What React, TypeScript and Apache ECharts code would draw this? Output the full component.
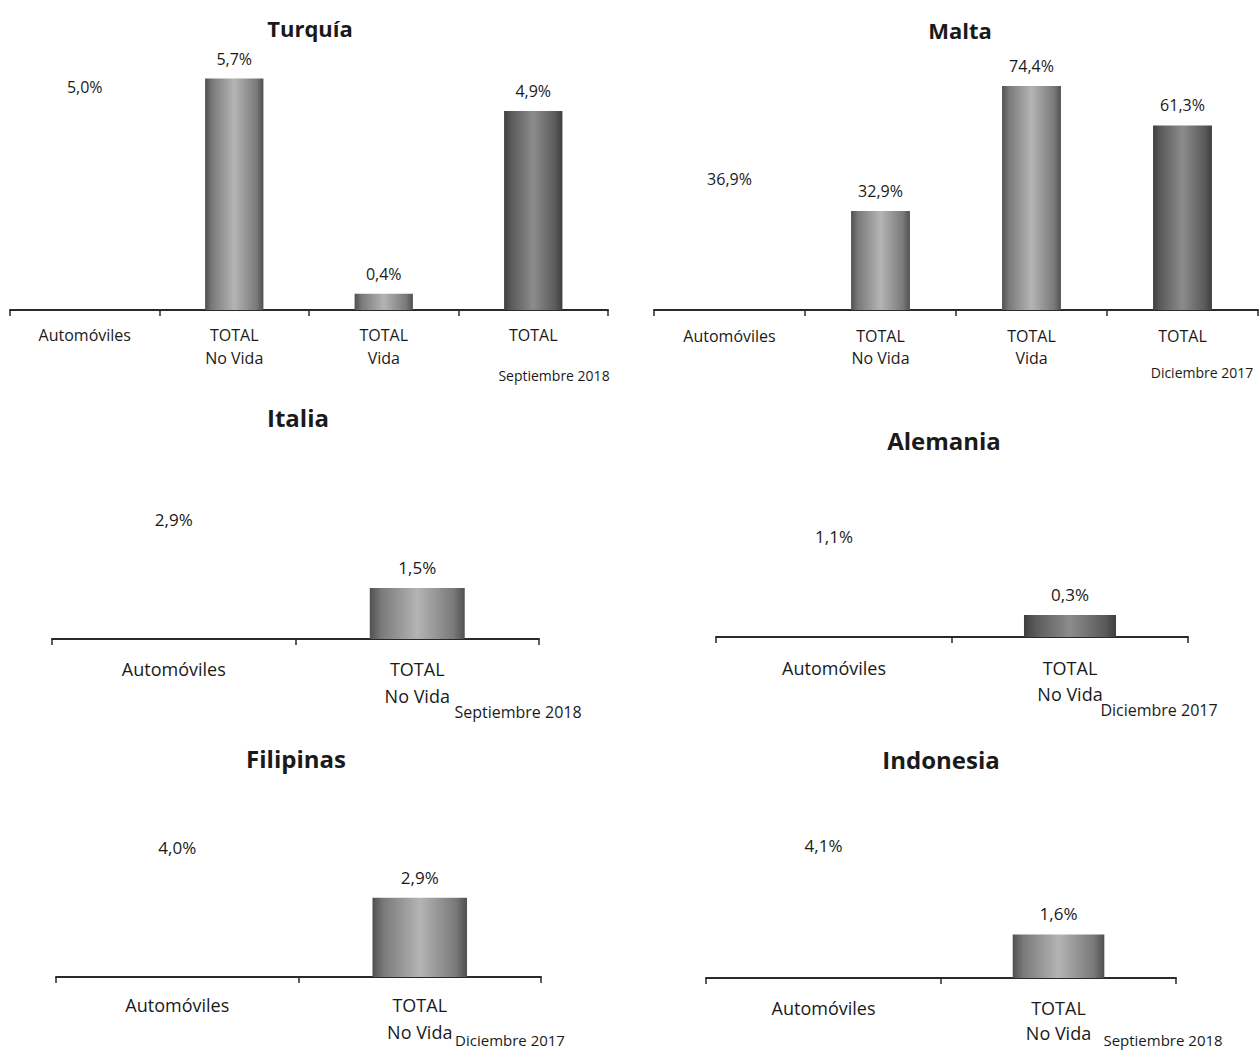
import React, { useEffect, useRef } from "react";
import * as echarts from "echarts";

// ---- Data ----
const fourCategories = ["Automóviles", "TOTAL\nNo Vida", "TOTAL\nVida", "TOTAL"];
const twoCategories = ["Automóviles", "TOTAL\nNo Vida"];

const turquiaValues = [5.0, 5.7, 0.4, 4.9];
const maltaValues = [36.9, 32.9, 74.4, 61.3];
const italiaValues = [2.9, 1.5];
const alemaniaValues = [1.1, 0.3];
const filipinasValues = [4.0, 2.9];
const indonesiaValues = [4.1, 1.6];

const titles = ["Turquía", "Malta", "Italia", "Alemania", "Filipinas", "Indonesia"];
const dateNotes = [
  "Septiembre 2018",
  "Diciembre 2017",
  "Septiembre 2018",
  "Diciembre 2017",
  "Diciembre 2017",
  "Septiembre 2018",
];

const FONT = "'Open Sans', 'Noto Sans', sans-serif";

// ---- Layout (positions/sizes only) ----
type Panel = {
  title: string;
  categories: string[];
  values: number[];
  left: number;
  width: number;
  axisY: number;
  scale: number;
  yMax: number;
  titleX: number;
  titleY: number;
  titleSize: number;
  note: string;
  noteX: number;
  noteY: number;
  noteSize: number;
  labelSize: number;
  labelLine: number;
  labelMargin: number;
  valueSize: number;
};

const panels: Panel[] = [
  {
    title: titles[0], categories: fourCategories, values: turquiaValues,
    left: 10, width: 598, axisY: 310, scale: 40.6, yMax: 6,
    titleX: 310, titleY: 28, titleSize: 22,
    note: dateNotes[0], noteX: 554, noteY: 375, noteSize: 14,
    labelSize: 16, labelLine: 23, labelMargin: 13, valueSize: 16,
  },
  {
    title: titles[1], categories: fourCategories, values: maltaValues,
    left: 654, width: 604, axisY: 310, scale: 3.01, yMax: 80,
    titleX: 960, titleY: 30, titleSize: 22,
    note: dateNotes[1], noteX: 1202, noteY: 372, noteSize: 14,
    labelSize: 16, labelLine: 22, labelMargin: 15, valueSize: 16,
  },
  {
    title: titles[2], categories: twoCategories, values: italiaValues,
    left: 52, width: 487, axisY: 639, scale: 34, yMax: 4,
    titleX: 298, titleY: 417, titleSize: 24,
    note: dateNotes[2], noteX: 518, noteY: 712, noteSize: 16,
    labelSize: 18, labelLine: 27, labelMargin: 16, valueSize: 17,
  },
  {
    title: titles[3], categories: twoCategories, values: alemaniaValues,
    left: 716, width: 472, axisY: 637, scale: 73, yMax: 1.5,
    titleX: 944, titleY: 440, titleSize: 24,
    note: dateNotes[3], noteX: 1159, noteY: 710, noteSize: 16,
    labelSize: 18, labelLine: 26, labelMargin: 18, valueSize: 17,
  },
  {
    title: titles[4], categories: twoCategories, values: filipinasValues,
    left: 56, width: 485, axisY: 977, scale: 27.3, yMax: 4.5,
    titleX: 296, titleY: 758, titleSize: 24,
    note: dateNotes[4], noteX: 510, noteY: 1040, noteSize: 15,
    labelSize: 18, labelLine: 27, labelMargin: 14, valueSize: 17,
  },
  {
    title: titles[5], categories: twoCategories, values: indonesiaValues,
    left: 706, width: 470, axisY: 978, scale: 27.2, yMax: 4.5,
    titleX: 941, titleY: 759, titleSize: 24,
    note: dateNotes[5], noteX: 1163, noteY: 1040, noteSize: 15,
    labelSize: 18, labelLine: 25, labelMargin: 17, valueSize: 17,
  },
];

function barFill(dark: boolean) {
  const edge = dark ? "#3e3e3e" : "#505050";
  const mid = dark ? "#8c8c8c" : "#b4b4b4";
  return new echarts.graphic.LinearGradient(0, 0, 1, 0, [
    { offset: 0, color: edge },
    { offset: 0.12, color: dark ? "#5a5a5a" : "#7a7a7a" },
    { offset: 0.5, color: mid },
    { offset: 0.88, color: dark ? "#5a5a5a" : "#7a7a7a" },
    { offset: 1, color: edge },
  ]);
}

const fmt = (v: number) => v.toFixed(1).replace(".", ",") + "%";

export default function App() {
  const ref = useRef<HTMLDivElement>(null);

  useEffect(() => {
    if (!ref.current) return;
    const chart = echarts.init(ref.current, undefined, { renderer: "svg" });

    const grid = panels.map((p) => {
      const h = p.yMax * p.scale;
      return { left: p.left, width: p.width, top: p.axisY - h, height: h, containLabel: false };
    });
    const xAxis = panels.map((p, i) => ({
      type: "category",
      gridIndex: i,
      data: p.categories,
      axisLine: { show: true, lineStyle: { color: "#2a2a2a", width: 2 } },
      axisTick: { show: true, length: 6, lineStyle: { color: "#2a2a2a", width: 1.5 } },
      axisLabel: {
        fontFamily: FONT,
        fontSize: p.labelSize,
        lineHeight: p.labelLine,
        color: "#1a1a1a",
        margin: p.labelMargin,
        interval: 0,
      },
    }));
    const yAxis = panels.map((p, i) => ({
      type: "value",
      gridIndex: i,
      min: 0,
      max: p.yMax,
      show: false,
      splitLine: { show: false },
    }));
    const series = panels.map((p, i) => ({
      type: "bar",
      xAxisIndex: i,
      yAxisIndex: i,
      barWidth: "39%",
      data: p.values.map((v, j) => ({
        value: v,
        itemStyle: {
          color: j === 0 ? "rgba(255,255,255,0)" : barFill(p.categories[j] === "TOTAL" || i === 3),
        },
      })),
      label: {
        show: true,
        position: "top",
        distance: 12,
        fontFamily: FONT,
        fontSize: p.valueSize,
        color: "#1a1a1a",
        formatter: (d: any) => fmt(d.value),
      },
    }));

    const graphic: any[] = [];
    panels.forEach((p) => {
      graphic.push({
        type: "text",
        x: p.titleX,
        y: p.titleY,
        style: {
          text: p.title,
          font: `bold ${p.titleSize}px ${FONT}`,
          fill: "#1a1a1a",
          align: "center",
          verticalAlign: "middle",
          textAlign: "center",
          textVerticalAlign: "middle",
        },
      });
      graphic.push({
        type: "text",
        x: p.noteX,
        y: p.noteY,
        style: {
          text: p.note,
          font: `${p.noteSize}px ${FONT}`,
          fill: "#1a1a1a",
          align: "center",
          verticalAlign: "middle",
          textAlign: "center",
          textVerticalAlign: "middle",
        },
      });
    });

    chart.setOption({
      animation: false,
      backgroundColor: "#ffffff",
      grid,
      xAxis,
      yAxis,
      series,
      graphic,
    } as any);

    return () => chart.dispose();
  }, []);

  return (
    <div
      ref={ref}
      style={{ position: "fixed", left: 0, top: 0, width: 1259, height: 1052, background: "#fff" }}
    />
  );
}
